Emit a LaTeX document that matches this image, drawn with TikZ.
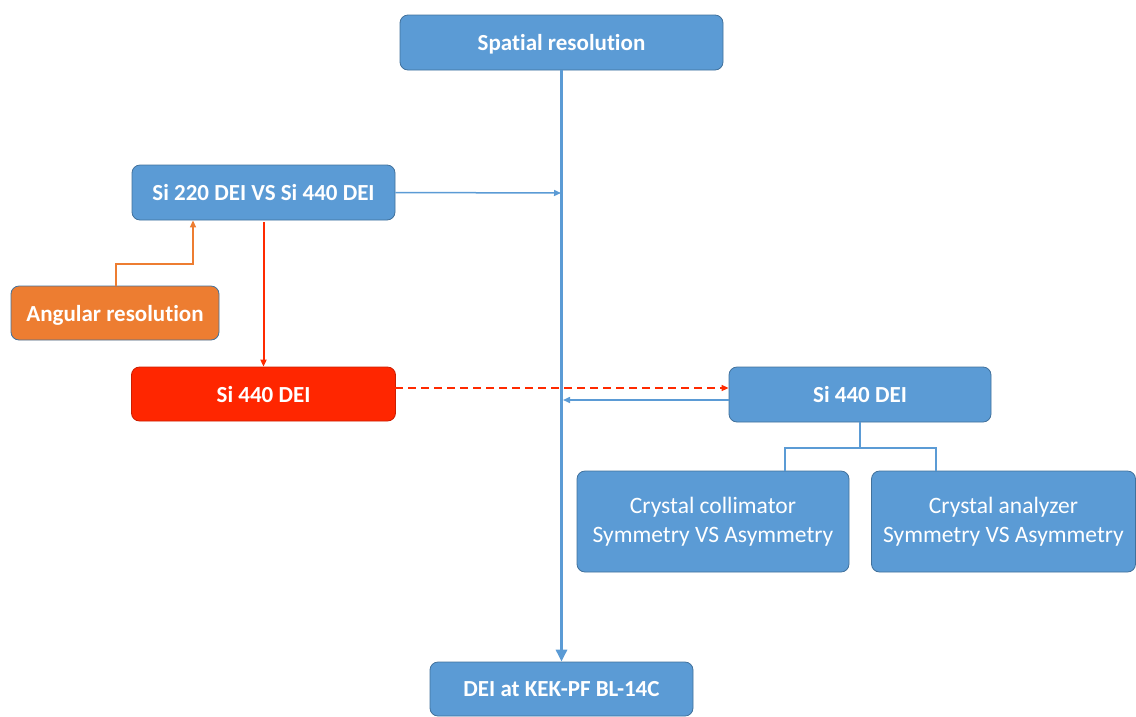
\documentclass[tikz,border=0pt]{standalone}
\usepackage{fontspec}
\setmainfont[Ligatures=CommonOff]{Carlito}
\usetikzlibrary{arrows.meta}
\definecolor{bfill}{HTML}{5B9BD5}
\definecolor{bdraw}{HTML}{41719C}
\definecolor{ofill}{HTML}{ED7D31}
\definecolor{rfill}{HTML}{FF2600}
\definecolor{rline}{HTML}{FF2A00}
\definecolor{oline}{HTML}{ED7D31}
\tikzset{
  box/.style={draw=bdraw, line width=0.8pt, rounded corners=8pt, inner sep=0pt, text=white, font=\bfseries\fontsize{23}{25}\selectfont},
  bluebox/.style={box, fill=bfill, text depth=0pt},
  orbox/.style={box, fill=ofill, text depth=0pt},
  redbox/.style={box, fill=rfill, draw=rfill!80!black, text depth=0pt},
  cbox/.style={box, fill=bfill, font=\fontsize{23.5}{29}\selectfont, align=center},
  bline/.style={draw=bfill, line width=1.5pt},
  arr/.style={-{Triangle[length=7pt,width=6pt]}},
}
\begin{document}
\begin{tikzpicture}[x=1pt,y=-1pt]
\useasboundingbox (0,0) rectangle (1136,716);
\node[bluebox, minimum width=323pt, minimum height=55pt] (sr) at (561.5,42.5) {Spatial resolution};
\node[bluebox, minimum width=263pt, minimum height=55pt] (s220) at (263.5,192.5) {Si 220 DEI VS Si 440 DEI};
\node[orbox, minimum width=208pt, minimum height=54pt] (ang) at (115,313) {Angular resolution};
\node[redbox, minimum width=264pt, minimum height=54pt] (s440l) at (263.5,394) {Si 440 DEI};
\node[bluebox, minimum width=262pt, minimum height=55pt] (s440r) at (860,394.5) {Si 440 DEI};
\node[cbox, minimum width=272pt, minimum height=101pt] (coll) at (713,521.5) {Crystal collimator\\Symmetry VS Asymmetry};
\node[cbox, minimum width=264pt, minimum height=101pt] (ana) at (1003.5,521.5) {Crystal analyzer\\Symmetry VS Asymmetry};
\node[bluebox, minimum width=263pt, minimum height=54pt] (dei) at (561.5,689) {DEI at KEK-PF BL-14C};
% main vertical
\coordinate (vtop) at (sr.south);
\coordinate (v220) at (561,193);
\coordinate (v400) at (563,400);
\draw[draw=bfill, line width=3pt, -{Triangle[length=12pt,width=11pt]}] (vtop) -- (dei.north);
% Si220 -> spine
\draw[bline, arr] (s220.east) -- (v220);
% angular -> si220
\coordinate (a1) at (116,264);
\coordinate (a2) at (193,264);
\draw[draw=oline, line width=1.5pt, arr] (ang.north -| a1) -- (a1) -- (a2) -- (a2 |- s220.south);
% si220 -> si440 red
\coordinate (r0) at (263.5,222);
\draw[draw=rline, line width=2pt, arr] (r0) -- (s440l.north);
% dashed red
\coordinate (d1) at (395,388);
\draw[draw=rline, line width=1.5pt, dash pattern=on 8pt off 5pt, arr] (d1) -- (s440r.west |- d1);
% right si440 -> spine
\coordinate (b1) at (729,400);
\draw[bline, arr] (b1) -- (v400);
% tree
\coordinate (t1) at (860,448);
\coordinate (tl) at (785,448);
\coordinate (tr) at (936,448);
\draw[bline] (s440r.south) -- (t1);
\draw[bline] (coll.north -| tl) -- (tl) -- (tr) -- (ana.north -| tr);
\end{tikzpicture}
\end{document}
